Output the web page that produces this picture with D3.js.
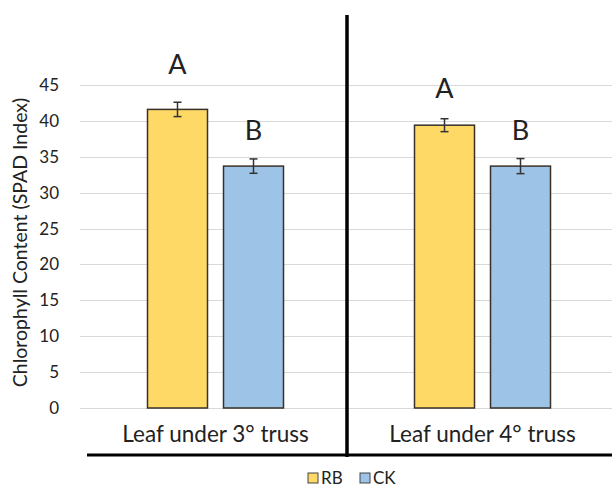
<!DOCTYPE html>
<html><head><meta charset="utf-8">
<script src="https://cdn.jsdelivr.net/npm/d3@7"></script>
<style>body{margin:0;background:#fff}svg{display:block}text{font-family:Lato,"Open Sans",sans-serif;fill:#222}</style>
</head><body><svg id="c" width="612" height="487"></svg>
<script>
const categories = ["Leaf under 3° truss", "Leaf under 4° truss"];
const series = ["RB", "CK"];
const rbValues = [41.6, 39.4];
const ckValues = [33.7, 33.7];
const rbErrors = [1.0, 0.9];
const ckErrors = [1.0, 1.05];
const rbLetters = ["A", "A"];
const ckLetters = ["B", "B"];
const rbLetterY = [46.5, 43.2];
const ckLetterY = [37.3, 37.3];
const yTicks = [0, 5, 10, 15, 20, 25, 30, 35, 40, 45];
const colors = {RB: "#ffd966", CK: "#9dc3e6"};

const rows = [];
categories.forEach((c, i) => {
  rows.push({cat: c, s: "RB", v: rbValues[i], e: rbErrors[i], l: rbLetters[i], ly: rbLetterY[i]});
  rows.push({cat: c, s: "CK", v: ckValues[i], e: ckErrors[i], l: ckLetters[i], ly: ckLetterY[i]});
});

const svg = d3.select("#c");
const y = d3.scaleLinear().domain([0, 45]).range([408, 85]);
const x = d3.scaleBand().domain(categories).range([82, 616]);
const bw = x.bandwidth();
const x1 = d3.scaleBand().domain(series).range([bw / 2 - 68, bw / 2 + 68]).paddingInner(16 / 76);

// gridlines
svg.append("g").selectAll("line").data(yTicks).join("line")
  .attr("x1", 80).attr("x2", 612)
  .attr("y1", d => Math.round(y(d)) + 0.5).attr("y2", d => Math.round(y(d)) + 0.5)
  .attr("stroke", "#d9d9d9").attr("stroke-width", 1);

// y tick labels
svg.append("g").selectAll("text").data(yTicks).join("text")
  .attr("x", 59).attr("y", d => y(d)).attr("dy", "0.35em")
  .attr("text-anchor", "end").attr("font-size", 17).attr("fill", "#333")
  .text(d => d);

// y title
svg.append("text")
  .attr("transform", `translate(27,${(85 + 408) / 2 - 4}) rotate(-90)`)
  .attr("text-anchor", "middle").attr("font-size", 19.5).attr("fill", "#333")
  .text("Chlorophyll Content (SPAD Index)");

// bars
const g = svg.append("g");
g.selectAll("rect").data(rows).join("rect")
  .attr("x", d => x(d.cat) + x1(d.s))
  .attr("y", d => y(d.v))
  .attr("width", x1.bandwidth())
  .attr("height", d => y(0) - y(d.v))
  .attr("fill", d => colors[d.s])
  .attr("stroke", "#3a3028").attr("stroke-width", 1.5);

// error bars
const eb = g.selectAll("g.eb").data(rows).join("g").attr("class", "eb")
  .attr("stroke", "#333").attr("stroke-width", 1.5);
eb.append("line")
  .attr("x1", d => x(d.cat) + x1(d.s) + x1.bandwidth() / 2)
  .attr("x2", d => x(d.cat) + x1(d.s) + x1.bandwidth() / 2)
  .attr("y1", d => y(d.v + d.e)).attr("y2", d => y(d.v - d.e));
eb.append("line")
  .attr("x1", d => x(d.cat) + x1(d.s) + x1.bandwidth() / 2 - 4)
  .attr("x2", d => x(d.cat) + x1(d.s) + x1.bandwidth() / 2 + 4)
  .attr("y1", d => y(d.v + d.e)).attr("y2", d => y(d.v + d.e));
eb.append("line")
  .attr("x1", d => x(d.cat) + x1(d.s) + x1.bandwidth() / 2 - 4)
  .attr("x2", d => x(d.cat) + x1(d.s) + x1.bandwidth() / 2 + 4)
  .attr("y1", d => y(d.v - d.e)).attr("y2", d => y(d.v - d.e));

// letters
g.selectAll("text.lt").data(rows).join("text").attr("class", "lt")
  .attr("x", d => x(d.cat) + x1(d.s) + x1.bandwidth() / 2)
  .attr("y", d => y(d.ly))
  .attr("text-anchor", "middle").attr("font-size", 27).attr("fill", "#111")
  .text(d => d.l);

// category labels
svg.append("g").selectAll("text").data(categories).join("text")
  .attr("x", d => x(d) + bw / 2).attr("y", 442)
  .attr("text-anchor", "middle").attr("font-size", 22.5).attr("fill", "#222")
  .text(d => d);

// divider and bottom line
svg.append("line").attr("x1", 347).attr("x2", 347).attr("y1", 15).attr("y2", 457)
  .attr("stroke", "#000").attr("stroke-width", 3.5);
svg.append("line").attr("x1", 87).attr("x2", 612).attr("y1", 455).attr("y2", 455)
  .attr("stroke", "#000").attr("stroke-width", 3);

// legend
const leg = svg.append("g").selectAll("g").data(series).join("g")
  .attr("transform", (d, i) => `translate(${308 + i * 52},473)`);
leg.append("rect").attr("width", 10).attr("height", 10)
  .attr("fill", d => colors[d]).attr("stroke", "#444").attr("stroke-width", 1);
leg.append("text").attr("x", 13).attr("y", 11).attr("font-size", 17).attr("fill", "#333").text(d => d);
</script>
</body></html>
